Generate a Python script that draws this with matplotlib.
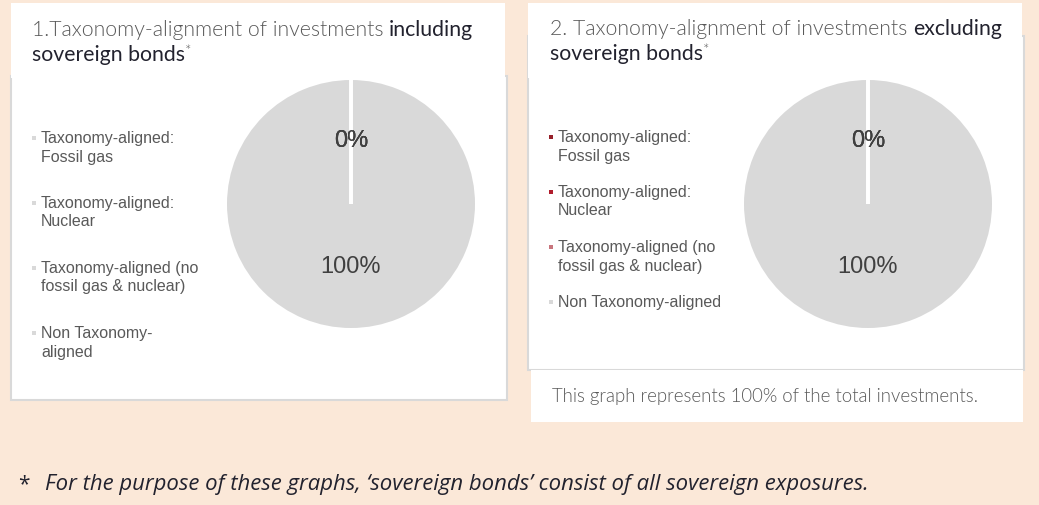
import matplotlib.pyplot as plt
from matplotlib.patches import Rectangle

# shares of the total investments, same categories in both charts
categories = ["Taxonomy-aligned: Fossil gas", "Taxonomy-aligned: Nuclear",
              "Taxonomy-aligned (no fossil gas & nuclear)", "Non Taxonomy-aligned"]
incl_values = [0, 0, 0, 100]
excl_values = [0, 0, 0, 100]
incl_labels = ["Taxonomy-aligned:\nFossil gas", "Taxonomy-aligned:\nNuclear",
               "Taxonomy-aligned (no\nfossil gas & nuclear)", "Non Taxonomy-\naligned"]
excl_labels = ["Taxonomy-aligned:\nFossil gas", "Taxonomy-aligned:\nNuclear",
               "Taxonomy-aligned (no\nfossil gas & nuclear)", "Non Taxonomy-aligned"]
incl_colors = ["#d9d9d9", "#d9d9d9", "#d9d9d9", "#d9d9d9"]
excl_colors = ["#96202a", "#b01c2c", "#c8757d", "#d9d9d9"]

W, H = 1039, 505
PEACH = "#fbe8d8"
BORDER = "#d9d9d9"
GREY_TXT = "#595959"
DARK_TXT = "#22222e"

fig = plt.figure(figsize=(W / 100, H / 100), dpi=100, facecolor=PEACH)


def fx(x):
    return x / W


def fy(y):
    return 1 - y / H


def box(x0, y0, x1, y1, edge=None):
    r = Rectangle((fx(x0), fy(y1)), (x1 - x0) / W, (y1 - y0) / H,
                  transform=fig.transFigure, facecolor="white",
                  edgecolor=edge if edge else "none", linewidth=1.5, zorder=-2)
    fig.add_artist(r)


# white cards (title boxes drawn last so they hide the top borders)
box(11, 76, 507, 400, BORDER)
box(11, 3, 505, 78)
box(528, 36, 1024, 370, BORDER)
box(528, 3, 1022, 78)
box(531, 370, 1023, 422)

renderer = fig.canvas.get_renderer()


def title(x, y, parts):
    # draw a line made of differently styled pieces, one after another
    for txt, color, weight, size, dy in parts:
        t = fig.text(fx(x), fy(y + dy), txt, color=color, fontsize=size,
                     fontweight=weight, family="Lato", va="baseline")
        x += t.get_window_extent(renderer).width


def chart(labels, values, colors, lx, mx, ys, cx):
    # legend, one text line at a time so the marker sits on the first line
    for lab, c, y in zip(labels, colors, ys):
        for i, line in enumerate(lab.split("\n")):
            fig.text(fx(lx), fy(y + 18.5 * i), line, fontsize=11.5, color=GREY_TXT,
                     family="Liberation Sans", va="baseline")
        fig.add_artist(Rectangle((fx(mx - 2), fy(y - 3.5)), 4 / W, 4 / H,
                                 transform=fig.transFigure, facecolor=c,
                                 edgecolor="none"))
    # pie
    ax = fig.add_axes([fx(cx - 124), fy(204 + 124), 248 / W, 248 / H])
    wedges, _, autotexts = ax.pie(
        values, colors=colors, startangle=90, counterclock=False,
        autopct="%.0f%%", pctdistance=0.51, radius=1,
        wedgeprops=dict(edgecolor="white", linewidth=2.8),
        textprops=dict(fontsize=17, color="#404040", family="Liberation Sans"))
    for w, v in zip(wedges, values):
        if v == 0:
            w.set_zorder(3)
        else:
            w.set_linewidth(0)
    ax.set_xlim(-1, 1)
    ax.set_ylim(-1, 1)
    ax.set_aspect("equal")
    ax.axis("off")


title(32, 36, [("1.Taxonomy-alignment of investments ", GREY_TXT, 300, 15.3, 0),
               ("including", DARK_TXT, "normal", 15.3, 0)])
title(32, 61, [("sovereign bonds", DARK_TXT, "normal", 15.3, 0),
               ("*", GREY_TXT, 300, 11, -5)])
title(550, 35, [("2. Taxonomy-alignment of investments ", GREY_TXT, 300, 15.3, 0),
                ("excluding", DARK_TXT, "normal", 15.3, 0)])
title(550, 60, [("sovereign bonds", DARK_TXT, "normal", 15.3, 0),
                ("*", GREY_TXT, 300, 11, -5)])

chart(incl_labels, incl_values, incl_colors, 41, 34, [143, 208, 273, 338], 351)
chart(excl_labels, excl_values, excl_colors, 558, 551, [142, 197, 252, 307], 868)

fig.text(fx(552), fy(402), "This graph represents 100% of the total investments.",
         fontsize=13.4, color=GREY_TXT, family="Lato", fontweight=300, va="baseline")

fig.text(fx(18), fy(490), "*", fontsize=15, color=DARK_TXT, family="Open Sans", va="baseline")
fig.text(fx(45), fy(490),
         "For the purpose of these graphs, \u2018sovereign bonds\u2019 consist of all sovereign exposures.",
         fontsize=15.9, color=DARK_TXT, family="Open Sans", style="italic", va="baseline")

fig.savefig("out.png", dpi=100, facecolor=PEACH)
